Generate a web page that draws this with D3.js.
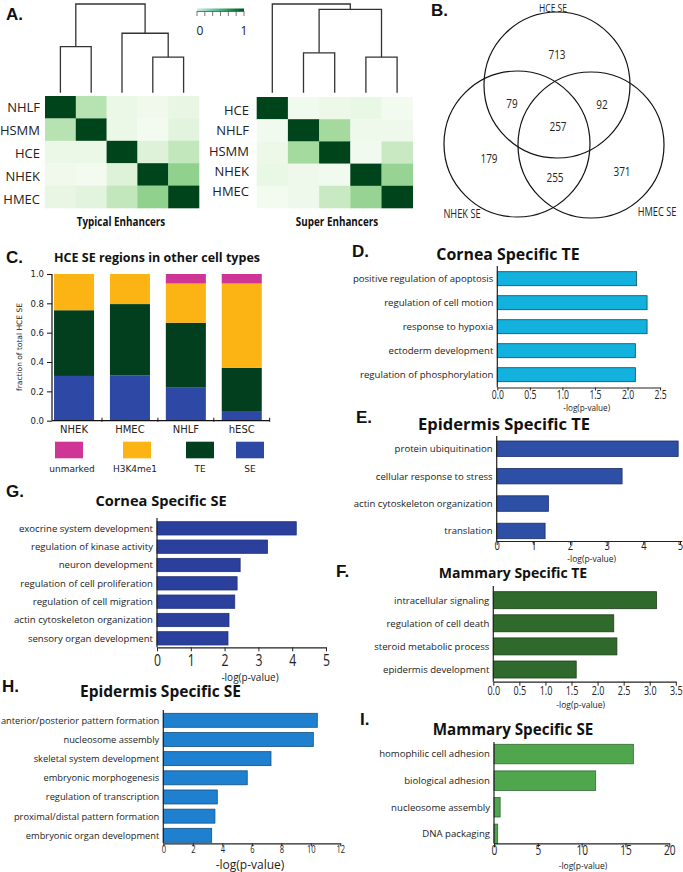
<!DOCTYPE html>
<html><head><meta charset="utf-8">
<script src="https://cdn.jsdelivr.net/npm/d3@7"></script>
<style>body{margin:0;background:#fff}svg{display:block}</style>
</head><body><svg id="c" width="683" height="872"></svg>
<script>
// ================= DATA =================
const teCells = ["NHLF","HSMM","HCE","NHEK","HMEC"];
const teMatrix = [
  [1.00,0.30,0.08,0.05,0.10],
  [0.30,1.00,0.08,0.03,0.13],
  [0.08,0.08,1.00,0.15,0.26],
  [0.05,0.03,0.15,1.00,0.42],
  [0.10,0.13,0.26,0.42,1.00]];
const seCells = ["HCE","NHLF","HSMM","NHEK","HMEC"];
const seMatrix = [
  [1.00,0.04,0.07,0.09,0.03],
  [0.04,1.00,0.36,0.06,0.06],
  [0.07,0.36,1.00,0.04,0.24],
  [0.09,0.06,0.04,1.00,0.40],
  [0.03,0.06,0.24,0.40,1.00]];
// dendrograms: h = merge height (0..1)
const teTree = {h:1.00,c:[{h:0.52,c:[{n:"NHLF"},{n:"HSMM"}]},{h:0.67,c:[{n:"HCE"},{h:0.40,c:[{n:"NHEK"},{n:"HMEC"}]}]}]};
const seTree = {h:1.00,c:[{n:"HCE"},{h:0.94,c:[{h:0.45,c:[{n:"NHLF"},{n:"HSMM"}]},{h:0.40,c:[{n:"NHEK"},{n:"HMEC"}]}]}]};
const heatTicks = [0,1];

const vennSets = ["HCE SE","NHEK SE","HMEC SE"];
const vennRegions = ["HCE","HCE∩NHEK","HCE∩HMEC","all","NHEK","NHEK∩HMEC","HMEC"];
const vennCounts = [713,79,92,257,179,255,371];

const cCats = ["NHEK","HMEC","NHLF","hESC"];
const cSeries = ["SE","TE","H3K4me1","unmarked"];
const cSE = [0.305,0.310,0.225,0.066];
const cTE = [0.448,0.485,0.443,0.294];
const cH3 = [0.247,0.205,0.267,0.575];
const cUn = [0.000,0.000,0.065,0.065];
const cTicks = [0,0.2,0.4,0.6,0.8,1.0];
const cLegend = ["unmarked","H3K4me1","TE","SE"];

const dTerms = ["positive regulation of apoptosis","regulation of cell motion","response to hypoxia","ectoderm development","regulation of phosphorylation"];
const dVals = [2.14,2.30,2.30,2.12,2.12];
const dTicks = [0,0.5,1,1.5,2,2.5];
const eTerms = ["protein ubiquitination","cellular response to stress","actin cytoskeleton organization","translation"];
const eVals = [4.95,3.42,1.41,1.32];
const eTicks = [0,1,2,3,4,5];
const fTerms = ["intracellular signaling","regulation of cell death","steroid metabolic process","epidermis development"];
const fVals = [3.13,2.31,2.37,1.59];
const fTicks = [0,0.5,1,1.5,2,2.5,3,3.5];
const gTerms = ["exocrine system development","regulation of kinase activity","neuron development","regulation of cell proliferation","regulation of cell migration","actin cytoskeleton organization","sensory organ development"];
const gVals = [4.12,3.27,2.46,2.37,2.30,2.13,2.10];
const gTicks = [0,1,2,3,4,5];
const hTerms = ["anterior/posterior pattern formation","nucleosome assembly","skeletal system development","embryonic morphogenesis","regulation of transcription","proximal/distal pattern formation","embryonic organ development"];
const hVals = [10.44,10.17,7.30,5.69,3.66,3.50,3.28];
const hTicks = [0,2,4,6,8,10,12];
const iTerms = ["homophilic cell adhesion","biological adhesion","nucleosome assembly","DNA packaging"];
const iVals = [15.9,11.6,0.7,0.42];
const iTicks = [0,5,10,15,20];

// ================= STYLE =================
const SANS = "'Open Sans','Noto Sans',sans-serif";
const VERD = "'DejaVu Sans',sans-serif";
const BOLD = "'Liberation Sans',Arial,sans-serif";

const svg = d3.select("#c");
svg.append("rect").attr("width",683).attr("height",872).attr("fill","#fff");

function letter(t,x,y){
  svg.append("text").attr("x",x).attr("y",y).text(t)
    .attr("font-family",BOLD).attr("font-weight","bold").attr("font-size",17).attr("fill","#111");
}
function txt(g,t,x,y,o){
  o=o||{};
  return g.append("text").attr("x",x).attr("y",y).text(t)
    .attr("font-family",o.f||SANS).attr("font-size",o.s||10)
    .attr("font-weight",o.w||"normal").attr("text-anchor",o.a||"start")
    .attr("fill",o.c||"#111");
}
// horizontally condensed text
function ctxt(g,t,x,y,o){
  o=o||{};
  return g.append("text").attr("transform","translate("+x+","+y+") scale("+(o.sx||0.74)+",1)")
    .text(t).attr("font-family",o.f||SANS).attr("font-size",o.s||10)
    .attr("font-weight",o.w||"normal").attr("text-anchor",o.a||"middle")
    .attr("fill",o.c||"#222");
}

// ================= PANEL A =================
letter("A.",6,20);
const heat = d3.scaleSequential(d3.interpolateGreens).domain([0,1]);

function heatmap(cells,matrix,tree,box,labBox,title,titleX){
  const g = svg.append("g");
  const xs = d3.scaleBand().domain(cells).range([box.x0,box.x1]);
  const ys = d3.scaleBand().domain(cells).range([box.y0,box.y1]);
  cells.forEach((r,i)=>cells.forEach((c,j)=>{
    g.append("rect").attr("x",xs(c)).attr("y",ys(r))
      .attr("width",xs.bandwidth()+0.3).attr("height",ys.bandwidth()+0.3)
      .attr("fill",heat(matrix[i][j]));
  }));
  const ls = d3.scaleBand().domain(cells).range([labBox.y0,labBox.y1]);
  cells.forEach(c=>txt(g,c,labBox.x,ls(c)+ls.bandwidth()/2+4.5,{s:13,a:"end",c:"#222"}));
  // dendrogram
  const root = d3.hierarchy(tree,d=>d.c);
  const hy = d3.scaleLinear().domain([0,1]).range([box.dBottom,box.dTop]);
  root.eachAfter(n=>{
    if(!n.children){ n.px = xs(n.data.n)+xs.bandwidth()/2; n.py = hy(0); }
    else { n.px = (n.children[0].px+n.children[n.children.length-1].px)/2; n.py = hy(n.data.h); }
  });
  const line = d3.line();
  root.each(n=>{
    if(!n.children) return;
    const a=n.children[0], b=n.children[n.children.length-1];
    g.append("path").attr("d",line([[a.px,a.py],[a.px,n.py],[b.px,n.py],[b.px,b.py]]))
      .attr("fill","none").attr("stroke","#333").attr("stroke-width",1.3);
  });
  ctxt(g,title,titleX,226,{s:13,w:"bold",c:"#111",sx:0.76});
}
heatmap(teCells,teMatrix,teTree,{x0:45,x1:199,y0:96,y1:208,dTop:4,dBottom:92.7},{x:40,y0:96,y1:211},"Typical Enhancers",121);
heatmap(seCells,seMatrix,seTree,{x0:256.7,x1:412.7,y0:97,y1:208,dTop:4,dBottom:92.7},{x:249,y0:100,y1:202},"Super Enhancers",337);

// color bar
(function(){
  const defs = svg.append("defs");
  const lg = defs.append("linearGradient").attr("id","hg");
  d3.range(0,1.01,0.25).forEach(t=>lg.append("stop").attr("offset",t).attr("stop-color",d3.interpolateBuGn(0.25+0.7*t)));
  const cx = d3.scaleLinear().domain([0,1]).range([197,244]);
  svg.append("rect").attr("x",cx(0)).attr("y",8.5).attr("width",cx(1)-cx(0)).attr("height",3).attr("fill","url(#hg)");
  d3.range(0,1.01,1/6).forEach(t=>svg.append("line").attr("x1",cx(t)).attr("x2",cx(t)).attr("y1",11).attr("y2",16)
    .attr("stroke","#555").attr("stroke-width",0.8));
  svg.append("line").attr("x1",cx(0)).attr("x2",cx(1)).attr("y1",11.5).attr("y2",11.5).attr("stroke","#555").attr("stroke-width",0.8);
  heatTicks.forEach(t=>txt(svg,String(t),cx(t)+(t?0:3),35,{s:12,a:"middle",c:"#222"}));
})();

// ================= PANEL B =================
letter("B.",431,16);
(function(){
  const g = svg.append("g");
  const circles = [{cx:557,cy:85},{cx:517,cy:144},{cx:591,cy:145}];
  const r = 73;
  circles.forEach(c=>g.append("circle").attr("cx",c.cx).attr("cy",c.cy).attr("r",r)
    .attr("fill","none").attr("stroke","#111").attr("stroke-width",1.2));
  const setLab = [[553,11.5,11.5],[462,218,12.5],[657,216,12.5]];
  vennSets.forEach((s,i)=>ctxt(g,s,setLab[i][0],setLab[i][1],{s:setLab[i][2],sx:0.74}));
  const pos = [[557,59],[512,108],[602,109],[558,131],[489,163],[555,182],[622,176]];
  vennCounts.forEach((v,i)=>ctxt(g,String(v),pos[i][0],pos[i][1],{s:13.5,sx:0.74}));
})();

// ================= PANEL C =================
letter("C.",6,263);
(function(){
  const g = svg.append("g");
  txt(g,"HCE SE regions in other cell types",157,262,{f:SANS,s:12.5,w:"bold",a:"middle"});
  const x = d3.scaleBand().domain(cCats).range([46.1,269.7]).paddingInner(0.284).paddingOuter(0.142);
  const y = d3.scaleLinear().domain([0,1]).range([420.7,274]);
  const cols = {SE:"#2e49a5",TE:"#013f1e",H3K4me1:"#fcb314",unmarked:"#cf3595"};
  const series = {SE:cSE,TE:cTE,H3K4me1:cH3,unmarked:cUn};
  const rows = cCats.map((c,i)=>{const o={cat:c};cSeries.forEach(s=>o[s]=series[s][i]);return o;});
  const stack = d3.stack().keys(cSeries)(rows);
  stack.forEach(layer=>{
    g.selectAll(null).data(layer).enter().append("rect")
      .attr("x",d=>x(d.data.cat)).attr("width",x.bandwidth())
      .attr("y",d=>y(d[1])).attr("height",d=>Math.max(0,y(d[0])-y(d[1])))
      .attr("fill",cols[layer.key]);
  });
  const ya = g.append("g").attr("transform","translate(52,0)")
    .call(d3.axisLeft(y).tickValues(cTicks).tickFormat(d3.format(".1f")).tickSize(5).tickPadding(3));
  ya.select(".domain").attr("d","M0,"+y(1)+"V"+y(0)).attr("stroke","#111").attr("stroke-width",1.2);
  ya.selectAll("text").attr("font-family",VERD).attr("font-size",8.5).attr("fill","#222");
  ya.selectAll("line").attr("stroke","#111");
  g.append("line").attr("x1",52).attr("x2",269.7).attr("y1",y(0)).attr("y2",y(0)).attr("stroke","#111").attr("stroke-width",1.2);
  cCats.forEach((c,i)=>{
    const bx = x(c)+x.bandwidth()+x.step()*x.paddingInner()/2;
    g.append("line").attr("x1",bx).attr("x2",bx).attr("y1",y(0)-3).attr("y2",y(0)+1).attr("stroke","#111");
    txt(g,c,x(c)+x.bandwidth()/2,433,{f:VERD,s:10,a:"middle",c:"#222"});
  });
  g.append("text").attr("transform","translate(22,347) rotate(-90)").attr("text-anchor","middle")
    .attr("font-family",VERD).attr("font-size",7.5).attr("fill","#222").text("fraction of total HCE SE");
  const lcent = {unmarked:69,H3K4me1:137,TE:200,SE:250};
  cLegend.forEach(k=>{
    g.append("rect").attr("x",lcent[k]-14).attr("y",441.7).attr("width",28).attr("height",16.6).attr("fill",cols[k]);
    txt(g,k,lcent[k]+(k==="unmarked"?3:(k==="H3K4me1"?-2:0)),472,{f:VERD,s:9,a:"middle",c:"#222"});
  });
})();

// ================= GO BAR PANELS =================
function hbar(terms,vals,ticks,o){
  const g = svg.append("g");
  const x = d3.scaleLinear().domain([0,ticks[ticks.length-1]]).range([o.x0,o.x1]);
  const n = terms.length, p = 1-o.barH/o.step;
  const r0 = o.top - p*o.step/2;
  const y = d3.scaleBand().domain(terms).range([r0,r0+n*o.step]).paddingInner(p).paddingOuter(p/2);
  g.selectAll(null).data(terms).enter().append("rect")
    .attr("x",x(0)).attr("y",d=>y(d)).attr("height",y.bandwidth())
    .attr("width",(d,i)=>x(vals[i])-x(0))
    .attr("fill",o.color).attr("stroke",o.stroke).attr("stroke-width",0.8);
  terms.forEach(t=>txt(g,t,o.x0-4,y(t)+y.bandwidth()/2+3.4,{s:o.ls||9.6,a:"end",c:"#222"}));
  g.append("line").attr("x1",o.x0).attr("x2",o.x0).attr("y1",o.axTop).attr("y2",o.axisY).attr("stroke","#222").attr("stroke-width",1.2);
  const xa = g.append("g").attr("transform","translate(0,"+o.axisY+")")
    .call(d3.axisBottom(x).tickValues(ticks).tickFormat(d3.format(o.fmt)).tickSize(o.tk||4).tickSizeOuter(0).tickPadding(2));
  xa.select(".domain").attr("stroke","#222").attr("stroke-width",1.2);
  xa.selectAll("line").attr("stroke","#222");
  xa.selectAll("text").attr("font-family",SANS).attr("font-size",o.tickSize).attr("fill","#222")
    .attr("y",null).attr("dy",null).attr("transform","translate(0,"+(o.tickY-o.axisY)+") scale(0.72,1)");
  txt(g,"-log(p-value)",o.lab.x,o.lab.y,{s:o.lab.s,a:"middle",c:"#222"});
  txt(g,o.title,o.tx,o.ty,{s:o.ts,w:"bold",a:"middle",c:"#111"});
}

letter("D.",352,257);
hbar(dTerms,dVals,dTicks,{x0:497.3,x1:660.1,top:271.7,step:24,barH:14,axisY:387.5,axTop:266,
  color:"#12b1de",stroke:"#1d4657",tickSize:12,tickY:398.5,fmt:".1f",tk:3,
  lab:{x:586.7,y:410.5,s:8.2},title:"Cornea Specific TE",tx:508,ty:260,ts:15.9});
letter("E.",356,423);
hbar(eTerms,eVals,eTicks,{x0:496.7,x1:680,top:441,step:27.4,barH:15.5,axisY:541,axTop:436,
  color:"#2d4fa5",stroke:"#1d2f66",tickSize:13,tickY:549.5,fmt:"d",
  lab:{x:591.7,y:561.5,s:8.5},title:"Epidermis Specific TE",tx:504,ty:430,ts:16.5});
letter("F.",336,577);
hbar(fTerms,fVals,fTicks,{x0:493.3,x1:675.8,top:591.7,step:23.1,barH:17,axisY:681.7,axTop:586,
  color:"#2f6a2c",stroke:"#1c3d1b",tickSize:12.5,tickY:695,fmt:".1f",
  lab:{x:580.7,y:708,s:8.5},title:"Mammary Specific TE",tx:513,ty:578,ts:14});
letter("I.",360,725);
hbar(iTerms,iVals,iTicks,{x0:494,x1:669.3,top:744.3,step:26.6,barH:19.5,axisY:843.3,axTop:742,
  color:"#4fa64c",stroke:"#2f6a2f",tickSize:14,tickY:855,fmt:"d",
  lab:{x:583,y:868.5,s:8.5},title:"Mammary Specific SE",tx:513,ty:735,ts:15.2});
letter("G.",6,497);
hbar(gTerms,gVals,gTicks,{x0:157,x1:326,top:521.7,step:18.33,barH:13.3,axisY:647.3,axTop:518,
  color:"#2b3f9c",stroke:"#22327a",tickSize:17,tickY:665.5,fmt:"d",
  lab:{x:250,y:681,s:10},title:"Cornea Specific SE",tx:161,ty:506,ts:14.6});
letter("H.",2,692);
hbar(hTerms,hVals,hTicks,{x0:163.3,x1:340.3,top:713.3,step:19.17,barH:14,axisY:843.3,axTop:710,
  color:"#1e80cf",stroke:"#174f80",tickSize:10.5,tickY:852.5,fmt:"d",ls:9.3,tk:3,
  lab:{x:250,y:868.5,s:12},title:"Epidermis Specific SE",tx:160.5,ty:697,ts:15.5});
</script></body></html>
